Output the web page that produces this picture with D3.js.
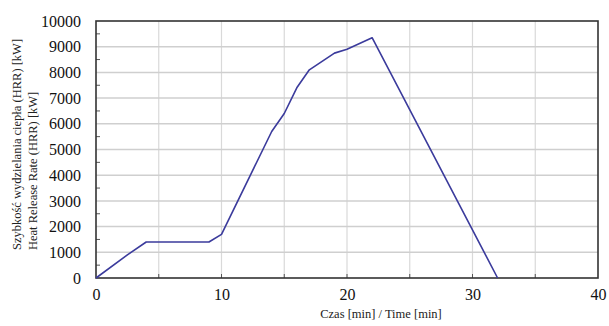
<!DOCTYPE html>
<html>
<head>
<meta charset="utf-8">
<script src="https://cdn.jsdelivr.net/npm/d3@7"></script>
<style>
body { margin: 0; background: #fff; }
text { font-family: "Liberation Serif", "Times New Roman", serif; fill: #222; }
</style>
</head>
<body>
<svg id="chart" width="609" height="326"></svg>
<script>
// time [min]
var times = [0, 2.5, 4, 9, 10, 14, 15, 16, 17, 19, 20, 22, 32];
// heat release rate [kW]
var hrr = [0, 900, 1400, 1400, 1700, 5700, 6400, 7400, 8100, 8750, 8900, 9350, 0];

var xTicks = [0, 10, 20, 30, 40];
var xGrid = [5, 10, 15, 20, 25, 30, 35];
var yTicks = [0, 1000, 2000, 3000, 4000, 5000, 6000, 7000, 8000, 9000, 10000];
var yMinor = [500, 1500, 2500, 3500, 4500, 5500, 6500, 7500, 8500, 9500];

var yLabel1 = "Szybkość wydzielania ciepła (HRR) [kW]";
var yLabel2 = "Heat Release Rate (HRR) [kW]";
var xLabel = "Czas [min] / Time [min]";

var mLeft = 96, mRight = 598, mTop = 21, mBottom = 278;
var SERIF = "'Liberation Serif', 'Times New Roman', serif";

var svg = d3.select("#chart");

var x = d3.scaleLinear().domain([0, 40]).range([mLeft, mRight]);
var y = d3.scaleLinear().domain([0, 10000]).range([mBottom, mTop]);

// grid
svg.append("g").selectAll("line").data(xGrid).enter().append("line")
	.attr("x1", function(d) { return x(d); }) //
	.attr("x2", function(d) { return x(d); }) //
	.attr("y1", mTop) //
	.attr("y2", mBottom) //
	.attr("stroke", "#d9d9d9") //
	.attr("stroke-width", 1.2);

svg.append("g").selectAll("line").data(yTicks.slice(1, -1)).enter().append("line")
	.attr("x1", mLeft) //
	.attr("x2", mRight) //
	.attr("y1", function(d) { return y(d); }) //
	.attr("y2", function(d) { return y(d); }) //
	.attr("stroke", "#cfcfcf") //
	.attr("stroke-width", 1.5);

// minor ticks inside the box
svg.append("g").selectAll("line").data(yMinor).enter().append("line")
	.attr("x1", mLeft) //
	.attr("x2", mLeft + 4) //
	.attr("y1", function(d) { return y(d); }) //
	.attr("y2", function(d) { return y(d); }) //
	.attr("stroke", "#555");

svg.append("g").selectAll("line").data(xGrid).enter().append("line")
	.attr("x1", function(d) { return x(d); }) //
	.attr("x2", function(d) { return x(d); }) //
	.attr("y1", mBottom) //
	.attr("y2", mBottom - 4) //
	.attr("stroke", "#555");

// frame
svg.append("rect")
	.attr("x", mLeft) //
	.attr("y", mTop) //
	.attr("width", mRight - mLeft) //
	.attr("height", mBottom - mTop) //
	.attr("fill", "none") //
	.attr("stroke", "#333") //
	.attr("stroke-width", 1.6);

// axes labels
var yAxis = d3.axisLeft(y).tickValues(yTicks).tickSize(0).tickPadding(15).tickFormat(d3.format("d"));
var gy = svg.append("g").attr("transform", "translate(" + mLeft + ",0)").call(yAxis);
gy.select(".domain").remove();
gy.attr("font-family", SERIF).attr("font-size", 16);
gy.selectAll("text")
	.style("font-family", SERIF)
	.style("fill", "#111");

var xAxis = d3.axisBottom(x).tickValues(xTicks).tickSize(0).tickPadding(11);
var gx = svg.append("g").attr("transform", "translate(0," + mBottom + ")").call(xAxis);
gx.select(".domain").remove();
gx.attr("font-family", SERIF).attr("font-size", 16);
gx.selectAll("text")
	.style("font-family", SERIF)
	.style("fill", "#111");

// line
var data = times.map(function(t, i) { return [t, hrr[i]]; });
var line = d3.line()
	.x(function(d) { return x(d[0]); })
	.y(function(d) { return y(d[1]); });

svg.append("path").datum(data)
	.attr("d", line) //
	.attr("fill", "none") //
	.attr("stroke", "#3b3b9c") //
	.attr("stroke-width", 1.6) //
	.attr("stroke-linejoin", "round");

// titles
svg.append("text")
	.attr("x", 381) //
	.attr("y", 318) //
	.attr("text-anchor", "middle") //
	.style("font-family", SERIF) //
	.style("font-size", "12.5px") //
	.text(xLabel);

svg.append("text")
	.attr("transform", "translate(21,250) rotate(-90)") //
	.attr("text-anchor", "start") //
	.style("font-family", SERIF) //
	.style("font-size", "12.5px") //
	.text(yLabel1);

svg.append("text")
	.attr("transform", "translate(37,250) rotate(-90)") //
	.attr("text-anchor", "start") //
	.style("font-family", SERIF) //
	.style("font-size", "12.5px") //
	.text(yLabel2);
</script>
</body>
</html>
